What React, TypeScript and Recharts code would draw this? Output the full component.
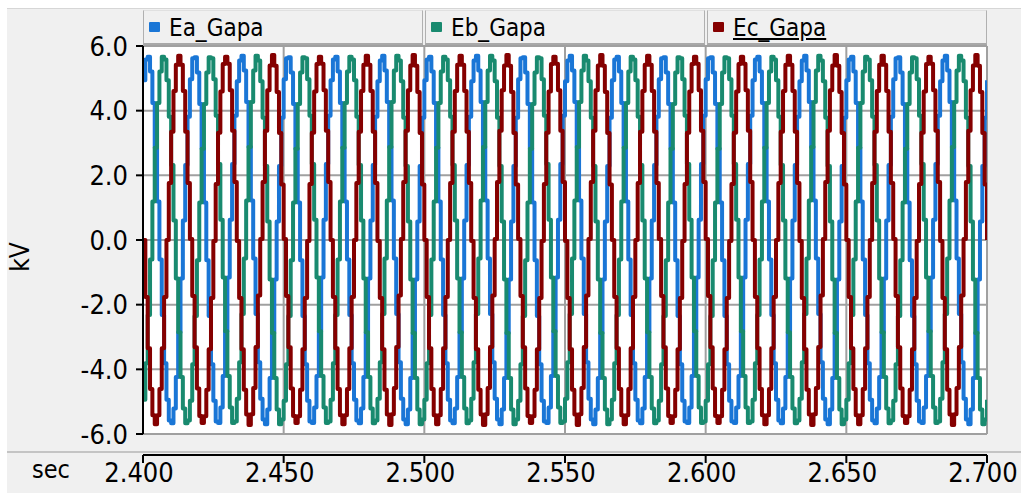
import React from 'react';
import { LineChart, Line, XAxis, YAxis, CartesianGrid } from 'recharts';

const FONT = '"Liberation Sans Narrow", "Arial Narrow", "DejaVu Sans Condensed", "Liberation Sans", sans-serif';

const seriesNames = ['Ea_Gapa', 'Eb_Gapa', 'Ec_Gapa'];
const seriesColors = ['#1a76d6', '#198a6f', '#850000'];
const xTicks = [2.4, 2.45, 2.5, 2.55, 2.6, 2.65, 2.7];
const yTicks = [-6, -4, -2, 0, 2, 4, 6];
const T0 = 2.4;
const DT = 1 / 1200;

// kV samples, one row per 60 Hz cycle (20 samples each)
const eaGapa = [
  4.94, 5.58, 5.67, 5.21, 4.24, 2.85, 1.19, -0.60, -2.32, -3.81, -4.94, -5.58, -5.67, -5.21, -4.24, -2.85, -1.19, 0.60, 2.32, 3.81,
  4.97, 5.62, 5.65, 5.18, 4.21, 2.82, 1.16, -0.63, -2.35, -3.84, -4.97, -5.61, -5.66, -5.18, -4.21, -2.82, -1.16, 0.63, 2.35, 3.84,
  4.91, 5.55, 5.70, 5.24, 4.27, 2.88, 1.22, -0.57, -2.29, -3.78, -4.91, -5.55, -5.70, -5.24, -4.27, -2.88, -1.22, 0.57, 2.29, 3.78,
  4.97, 5.62, 5.65, 5.18, 4.21, 2.82, 1.16, -0.63, -2.35, -3.84, -4.97, -5.61, -5.66, -5.18, -4.21, -2.82, -1.16, 0.63, 2.35, 3.84,
  4.94, 5.58, 5.67, 5.21, 4.24, 2.85, 1.19, -0.60, -2.32, -3.81, -4.94, -5.58, -5.67, -5.21, -4.24, -2.85, -1.19, 0.60, 2.32, 3.81,
  4.91, 5.55, 5.70, 5.24, 4.27, 2.88, 1.22, -0.57, -2.29, -3.78, -4.91, -5.55, -5.70, -5.24, -4.27, -2.88, -1.22, 0.57, 2.29, 3.78,
  4.94, 5.58, 5.67, 5.21, 4.24, 2.85, 1.19, -0.60, -2.32, -3.81, -4.94, -5.58, -5.67, -5.21, -4.24, -2.85, -1.19, 0.60, 2.32, 3.81,
  4.91, 5.55, 5.70, 5.24, 4.27, 2.88, 1.22, -0.57, -2.29, -3.78, -4.91, -5.55, -5.70, -5.24, -4.27, -2.88, -1.22, 0.57, 2.29, 3.78,
  4.97, 5.62, 5.65, 5.18, 4.21, 2.82, 1.16, -0.63, -2.35, -3.84, -4.97, -5.61, -5.66, -5.18, -4.21, -2.82, -1.16, 0.63, 2.35, 3.84,
  4.91, 5.55, 5.70, 5.24, 4.27, 2.88, 1.22, -0.57, -2.29, -3.78, -4.91, -5.55, -5.70, -5.24, -4.27, -2.88, -1.22, 0.57, 2.29, 3.78,
  4.94, 5.58, 5.67, 5.21, 4.24, 2.85, 1.19, -0.60, -2.32, -3.81, -4.94, -5.58, -5.67, -5.21, -4.24, -2.85, -1.19, 0.60, 2.32, 3.81,
  4.97, 5.62, 5.65, 5.18, 4.21, 2.82, 1.16, -0.63, -2.35, -3.84, -4.97, -5.61, -5.66, -5.18, -4.21, -2.82, -1.16, 0.63, 2.35, 3.84,
  4.97, 5.62, 5.65, 5.18, 4.21, 2.82, 1.16, -0.63, -2.35, -3.84, -4.97, -5.61, -5.66, -5.18, -4.21, -2.82, -1.16, 0.63, 2.35, 3.84,
  4.94, 5.58, 5.67, 5.21, 4.24, 2.85, 1.19, -0.60, -2.32, -3.81, -4.94, -5.58, -5.67, -5.21, -4.24, -2.85, -1.19, 0.60, 2.32, 3.81,
  4.91, 5.55, 5.70, 5.24, 4.27, 2.88, 1.22, -0.57, -2.29, -3.78, -4.91, -5.55, -5.70, -5.24, -4.27, -2.88, -1.22, 0.57, 2.29, 3.78,
  4.94, 5.58, 5.67, 5.21, 4.24, 2.85, 1.19, -0.60, -2.32, -3.81, -4.94, -5.58, -5.67, -5.21, -4.24, -2.85, -1.19, 0.60, 2.32, 3.81,
  4.97, 5.62, 5.65, 5.18, 4.21, 2.82, 1.16, -0.63, -2.35, -3.84, -4.97, -5.61, -5.66, -5.18, -4.21, -2.82, -1.16, 0.63, 2.35, 3.84,
  4.91, 5.55, 5.70, 5.24, 4.27, 2.88, 1.22, -0.57, -2.29, -3.78, -4.91, -5.55, -5.70, -5.24, -4.27, -2.88, -1.22, 0.57, 2.29, 3.78,
  4.94,
];

const ebGapa = [
  -4.94, -3.81, -2.32, -0.60, 1.19, 2.85, 4.24, 5.21, 5.67, 5.58, 4.94, 3.81, 2.32, 0.60, -1.19, -2.85, -4.24, -5.21, -5.67, -5.58,
  -4.97, -3.84, -2.35, -0.63, 1.16, 2.82, 4.21, 5.18, 5.65, 5.62, 4.97, 3.84, 2.35, 0.63, -1.16, -2.82, -4.21, -5.18, -5.66, -5.61,
  -4.91, -3.78, -2.29, -0.57, 1.22, 2.88, 4.27, 5.24, 5.70, 5.55, 4.91, 3.78, 2.29, 0.57, -1.22, -2.88, -4.27, -5.24, -5.70, -5.55,
  -4.97, -3.84, -2.35, -0.63, 1.16, 2.82, 4.21, 5.18, 5.65, 5.62, 4.97, 3.84, 2.35, 0.63, -1.16, -2.82, -4.21, -5.18, -5.66, -5.61,
  -4.94, -3.81, -2.32, -0.60, 1.19, 2.85, 4.24, 5.21, 5.67, 5.58, 4.94, 3.81, 2.32, 0.60, -1.19, -2.85, -4.24, -5.21, -5.67, -5.58,
  -4.91, -3.78, -2.29, -0.57, 1.22, 2.88, 4.27, 5.24, 5.70, 5.55, 4.91, 3.78, 2.29, 0.57, -1.22, -2.88, -4.27, -5.24, -5.70, -5.55,
  -4.94, -3.81, -2.32, -0.60, 1.19, 2.85, 4.24, 5.21, 5.67, 5.58, 4.94, 3.81, 2.32, 0.60, -1.19, -2.85, -4.24, -5.21, -5.67, -5.58,
  -4.91, -3.78, -2.29, -0.57, 1.22, 2.88, 4.27, 5.24, 5.70, 5.55, 4.91, 3.78, 2.29, 0.57, -1.22, -2.88, -4.27, -5.24, -5.70, -5.55,
  -4.97, -3.84, -2.35, -0.63, 1.16, 2.82, 4.21, 5.18, 5.65, 5.62, 4.97, 3.84, 2.35, 0.63, -1.16, -2.82, -4.21, -5.18, -5.66, -5.61,
  -4.91, -3.78, -2.29, -0.57, 1.22, 2.88, 4.27, 5.24, 5.70, 5.55, 4.91, 3.78, 2.29, 0.57, -1.22, -2.88, -4.27, -5.24, -5.70, -5.55,
  -4.94, -3.81, -2.32, -0.60, 1.19, 2.85, 4.24, 5.21, 5.67, 5.58, 4.94, 3.81, 2.32, 0.60, -1.19, -2.85, -4.24, -5.21, -5.67, -5.58,
  -4.97, -3.84, -2.35, -0.63, 1.16, 2.82, 4.21, 5.18, 5.65, 5.62, 4.97, 3.84, 2.35, 0.63, -1.16, -2.82, -4.21, -5.18, -5.66, -5.61,
  -4.97, -3.84, -2.35, -0.63, 1.16, 2.82, 4.21, 5.18, 5.65, 5.62, 4.97, 3.84, 2.35, 0.63, -1.16, -2.82, -4.21, -5.18, -5.66, -5.61,
  -4.94, -3.81, -2.32, -0.60, 1.19, 2.85, 4.24, 5.21, 5.67, 5.58, 4.94, 3.81, 2.32, 0.60, -1.19, -2.85, -4.24, -5.21, -5.67, -5.58,
  -4.91, -3.78, -2.29, -0.57, 1.22, 2.88, 4.27, 5.24, 5.70, 5.55, 4.91, 3.78, 2.29, 0.57, -1.22, -2.88, -4.27, -5.24, -5.70, -5.55,
  -4.94, -3.81, -2.32, -0.60, 1.19, 2.85, 4.24, 5.21, 5.67, 5.58, 4.94, 3.81, 2.32, 0.60, -1.19, -2.85, -4.24, -5.21, -5.67, -5.58,
  -4.97, -3.84, -2.35, -0.63, 1.16, 2.82, 4.21, 5.18, 5.65, 5.62, 4.97, 3.84, 2.35, 0.63, -1.16, -2.82, -4.21, -5.18, -5.66, -5.61,
  -4.91, -3.78, -2.29, -0.57, 1.22, 2.88, 4.27, 5.24, 5.70, 5.55, 4.91, 3.78, 2.29, 0.57, -1.22, -2.88, -4.27, -5.24, -5.70, -5.55,
  -4.94,
];

const ecGapa = [
  0.00, -1.76, -3.35, -4.61, -5.42, -5.70, -5.42, -4.61, -3.35, -1.76, 0.00, 1.76, 3.35, 4.61, 5.42, 5.70, 5.42, 4.61, 3.35, 1.76,
  0.03, -1.73, -3.32, -4.59, -5.44, -5.66, -5.45, -4.63, -3.38, -1.79, -0.03, 1.73, 3.32, 4.59, 5.44, 5.67, 5.45, 4.63, 3.38, 1.79,
  -0.03, -1.79, -3.38, -4.63, -5.40, -5.72, -5.39, -4.58, -3.31, -1.72, 0.03, 1.79, 3.38, 4.63, 5.40, 5.72, 5.39, 4.58, 3.31, 1.72,
  0.03, -1.73, -3.32, -4.59, -5.44, -5.66, -5.45, -4.63, -3.38, -1.79, -0.03, 1.73, 3.32, 4.59, 5.44, 5.67, 5.45, 4.63, 3.38, 1.79,
  0.00, -1.76, -3.35, -4.61, -5.42, -5.70, -5.42, -4.61, -3.35, -1.76, 0.00, 1.76, 3.35, 4.61, 5.42, 5.70, 5.42, 4.61, 3.35, 1.76,
  -0.03, -1.79, -3.38, -4.63, -5.40, -5.72, -5.39, -4.58, -3.31, -1.72, 0.03, 1.79, 3.38, 4.63, 5.40, 5.72, 5.39, 4.58, 3.31, 1.72,
  0.00, -1.76, -3.35, -4.61, -5.42, -5.70, -5.42, -4.61, -3.35, -1.76, 0.00, 1.76, 3.35, 4.61, 5.42, 5.70, 5.42, 4.61, 3.35, 1.76,
  -0.03, -1.79, -3.38, -4.63, -5.40, -5.72, -5.39, -4.58, -3.31, -1.72, 0.03, 1.79, 3.38, 4.63, 5.40, 5.72, 5.39, 4.58, 3.31, 1.72,
  0.03, -1.73, -3.32, -4.59, -5.44, -5.66, -5.45, -4.63, -3.38, -1.79, -0.03, 1.73, 3.32, 4.59, 5.44, 5.67, 5.45, 4.63, 3.38, 1.79,
  -0.03, -1.79, -3.38, -4.63, -5.40, -5.72, -5.39, -4.58, -3.31, -1.72, 0.03, 1.79, 3.38, 4.63, 5.40, 5.72, 5.39, 4.58, 3.31, 1.72,
  0.00, -1.76, -3.35, -4.61, -5.42, -5.70, -5.42, -4.61, -3.35, -1.76, 0.00, 1.76, 3.35, 4.61, 5.42, 5.70, 5.42, 4.61, 3.35, 1.76,
  0.03, -1.73, -3.32, -4.59, -5.44, -5.66, -5.45, -4.63, -3.38, -1.79, -0.03, 1.73, 3.32, 4.59, 5.44, 5.67, 5.45, 4.63, 3.38, 1.79,
  0.03, -1.73, -3.32, -4.59, -5.44, -5.66, -5.45, -4.63, -3.38, -1.79, -0.03, 1.73, 3.32, 4.59, 5.44, 5.67, 5.45, 4.63, 3.38, 1.79,
  0.00, -1.76, -3.35, -4.61, -5.42, -5.70, -5.42, -4.61, -3.35, -1.76, 0.00, 1.76, 3.35, 4.61, 5.42, 5.70, 5.42, 4.61, 3.35, 1.76,
  -0.03, -1.79, -3.38, -4.63, -5.40, -5.72, -5.39, -4.58, -3.31, -1.72, 0.03, 1.79, 3.38, 4.63, 5.40, 5.72, 5.39, 4.58, 3.31, 1.72,
  0.00, -1.76, -3.35, -4.61, -5.42, -5.70, -5.42, -4.61, -3.35, -1.76, 0.00, 1.76, 3.35, 4.61, 5.42, 5.70, 5.42, 4.61, 3.35, 1.76,
  0.03, -1.73, -3.32, -4.59, -5.44, -5.66, -5.45, -4.63, -3.38, -1.79, -0.03, 1.73, 3.32, 4.59, 5.44, 5.67, 5.45, 4.63, 3.38, 1.79,
  -0.03, -1.79, -3.38, -4.63, -5.40, -5.72, -5.39, -4.58, -3.31, -1.72, 0.03, 1.79, 3.38, 4.63, 5.40, 5.72, 5.39, 4.58, 3.31, 1.72,
  0.00,
];

const seriesValues = [eaGapa, ebGapa, ecGapa];

const data = eaGapa.map((_, i) => {
  const row: Record<string, number> = { t: T0 + i * DT };
  seriesNames.forEach((n, s) => {
    row[n] = seriesValues[s][i];
  });
  return row;
});

const W = 1021;
const H = 494;
const PLOT_LEFT = 143;
const PLOT_RIGHT = 987;
const PLOT_TOP = 46;
const XAXIS_Y = 455;

const XTick = (props: any) => {
  const { x, payload } = props;
  return (
    <g>
      <line x1={x} x2={x} y1={XAXIS_Y} y2={XAXIS_Y + 8} stroke="#000" strokeWidth={2} />
      <text x={x - 4} y={XAXIS_Y + 27} textAnchor="middle" fontSize={27} fontFamily={FONT} fill="#000">
        {Number(payload.value).toFixed(3)}
      </text>
    </g>
  );
};

export default function App() {
  return (
    <div style={{ position: 'relative', width: W, height: H, background: '#fff', overflow: 'hidden' }}>
      <style>{'body{margin:0}'}</style>
      <div
        style={{
          position: 'absolute', left: 7, top: 8, width: W - 7, height: 485,
          background: '#f0f0f0', borderTop: '1px solid #d6d6d6', boxSizing: 'border-box',
        }}
      />
      <div style={{ position: 'absolute', left: 7, top: 451, width: W - 7, height: 2, background: '#c4c4c4' }} />
      <div style={{ position: 'absolute', left: 0, top: 0 }}>
        <LineChart
          width={W}
          height={H}
          data={data}
          margin={{ top: PLOT_TOP, right: W - PLOT_RIGHT, left: PLOT_LEFT - 60, bottom: 20 }}
        >
          <CartesianGrid stroke="#a0a0a0" strokeWidth={2} fill="#ffffff" />
          <XAxis
            type="number"
            dataKey="t"
            domain={[2.4, 2.7]}
            ticks={xTicks}
            allowDataOverflow
            axisLine={false}
            tickLine={false}
            height={40}
            tick={<XTick />}
            interval={0}
          />
          <YAxis
            type="number"
            domain={[-6, 6]}
            ticks={yTicks}
            width={60}
            allowDataOverflow
            interval={0}
            tickFormatter={(v: number) => v.toFixed(1)}
            tick={{ fontSize: 27, fontFamily: FONT, fill: '#000' }}
            tickLine={{ stroke: '#000', strokeWidth: 2 }}
            tickSize={7}
            tickMargin={8}
            axisLine={{ stroke: '#000', strokeWidth: 2 }}
          />
          {seriesNames.map((n, i) => (
            <Line
              key={n}
              type="stepAfter"
              dataKey={n}
              stroke={seriesColors[i]}
              strokeWidth={4}
              strokeLinejoin="round"
              dot={false}
              isAnimationActive={false}
            />
          ))}
        </LineChart>
      </div>
      <div style={{ position: 'absolute', left: PLOT_LEFT, top: XAXIS_Y - 1, width: PLOT_RIGHT - PLOT_LEFT, height: 2, background: '#000' }} />
      <div
        style={{
          position: 'absolute', left: PLOT_LEFT, top: 10, width: PLOT_RIGHT - PLOT_LEFT, height: 35,
          display: 'flex', gap: 2,
        }}
      >
        {seriesNames.map((n, i) => (
          <div
            key={n}
            style={{
              flex: 1, position: 'relative', background: '#f0f0f0',
              borderLeft: '1px solid #b0b0b0', borderRight: '1px solid #b0b0b0', borderBottom: '2px solid #a8a8a8',
              borderTop: '1px solid #e0e0e0', boxSizing: 'border-box',
            }}
          >
            <div style={{ position: 'absolute', left: 5, top: 11, width: 11, height: 10, background: seriesColors[i], borderRadius: 1 }} />
            <div
              style={{
                position: 'absolute', left: 25, top: 1, fontSize: 24, lineHeight: '32px', fontFamily: FONT, color: '#000',
                textDecoration: i === 2 ? 'underline' : 'none', whiteSpace: 'nowrap',
              }}
            >
              {n}
            </div>
          </div>
        ))}
      </div>
      <div
        style={{
          position: 'absolute', left: 20, top: 257, transform: 'translate(-50%, -50%) rotate(-90deg)',
          fontSize: 26, fontFamily: FONT, color: '#000', whiteSpace: 'nowrap',
        }}
      >
        kV
      </div>
      <div style={{ position: 'absolute', left: 32, top: 455, fontSize: 25, fontFamily: FONT, color: '#000' }}>sec</div>
    </div>
  );
}
